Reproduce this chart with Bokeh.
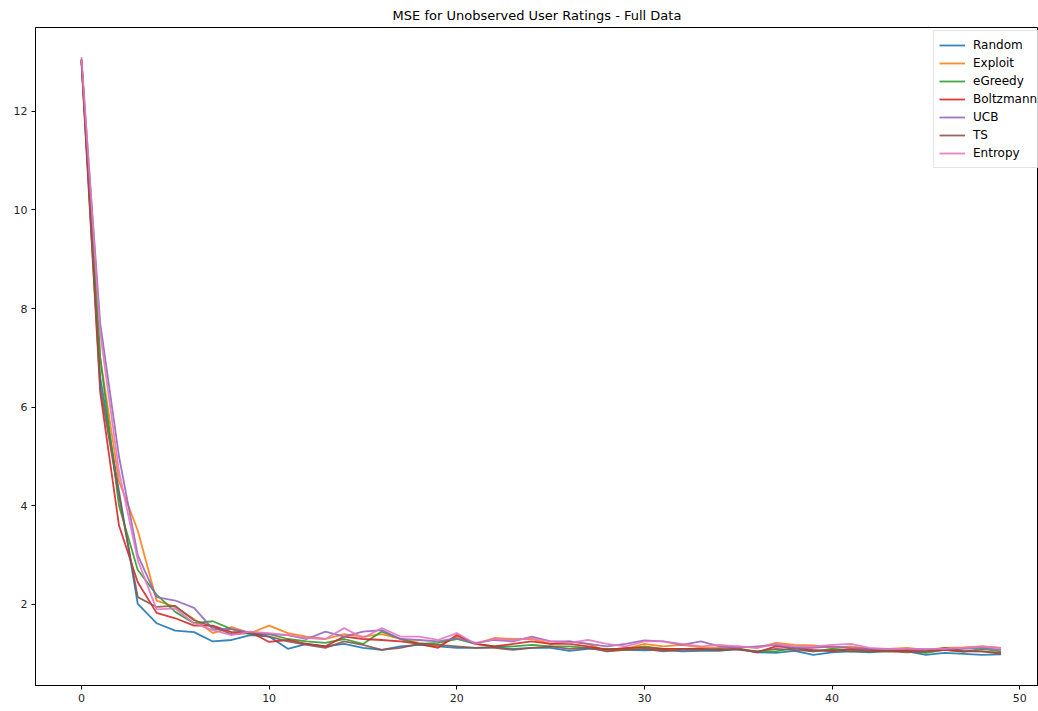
from bokeh.plotting import figure
from bokeh.models import Range1d, Legend, LegendItem, FixedTicker
from bokeh.embed import file_html
from bokeh.resources import INLINE

rounds = list(range(50))

random_ = [13.05, 6.6, 4.3, 2.01, 1.62, 1.47, 1.44, 1.25, 1.28, 1.38, 1.35, 1.1,
           1.2, 1.15, 1.2, 1.12, 1.08, 1.15, 1.18, 1.15, 1.12, 1.12, 1.14, 1.1, 1.12,
           1.12, 1.06, 1.1, 1.1, 1.08, 1.07, 1.08, 1.05, 1.06, 1.06, 1.1, 1.03, 1.02,
           1.06, 0.98, 1.03, 1.05, 1.03, 1.06, 1.05, 0.98, 1.02, 1.0, 0.98, 0.99]
exploit = [13.05, 7.0, 4.5, 3.5, 2.08, 1.95, 1.7, 1.42, 1.54, 1.42, 1.57, 1.42,
           1.35, 1.3, 1.4, 1.35, 1.4, 1.3, 1.22, 1.15, 1.35, 1.2, 1.32, 1.3, 1.3,
           1.2, 1.25, 1.2, 1.05, 1.1, 1.2, 1.15, 1.18, 1.13, 1.12, 1.15, 1.12, 1.22,
           1.18, 1.17, 1.12, 1.15, 1.1, 1.1, 1.12, 1.08, 1.12, 1.13, 1.15, 1.12]
egreedy = [13.05, 7.0, 4.0, 2.7, 2.2, 1.85, 1.62, 1.66, 1.5, 1.4, 1.4, 1.3,
           1.25, 1.22, 1.3, 1.2, 1.45, 1.3, 1.2, 1.22, 1.3, 1.2, 1.15, 1.15, 1.18,
           1.15, 1.15, 1.12, 1.1, 1.1, 1.15, 1.1, 1.1, 1.1, 1.08, 1.1, 1.05, 1.05,
           1.12, 1.05, 1.1, 1.08, 1.05, 1.05, 1.06, 1.02, 1.08, 1.04, 1.1, 1.05]
boltzmann = [13.0, 6.3, 3.6, 2.45, 1.83, 1.72, 1.57, 1.57, 1.44, 1.44, 1.24, 1.28,
             1.2, 1.15, 1.35, 1.3, 1.28, 1.25, 1.2, 1.12, 1.38, 1.2, 1.15, 1.2, 1.25,
             1.2, 1.2, 1.15, 1.08, 1.12, 1.12, 1.1, 1.1, 1.1, 1.08, 1.1, 1.03, 1.15,
             1.12, 1.08, 1.05, 1.1, 1.08, 1.05, 1.08, 1.05, 1.08, 1.05, 1.05, 1.02]
ucb = [13.0, 7.7, 5.0, 3.0, 2.15, 2.08, 1.93, 1.5, 1.5, 1.43, 1.4, 1.38,
       1.3, 1.45, 1.35, 1.45, 1.48, 1.3, 1.28, 1.25, 1.32, 1.22, 1.28, 1.25, 1.35,
       1.25, 1.25, 1.2, 1.15, 1.2, 1.27, 1.25, 1.18, 1.25, 1.15, 1.12, 1.15, 1.18,
       1.12, 1.12, 1.15, 1.12, 1.1, 1.1, 1.1, 1.08, 1.1, 1.1, 1.12, 1.08]
ts = [13.05, 6.4, 4.2, 2.15, 1.95, 1.97, 1.68, 1.55, 1.4, 1.42, 1.35, 1.25,
      1.18, 1.12, 1.25, 1.18, 1.08, 1.12, 1.2, 1.18, 1.15, 1.12, 1.12, 1.08, 1.12,
      1.15, 1.1, 1.12, 1.05, 1.08, 1.1, 1.05, 1.08, 1.08, 1.1, 1.08, 1.05, 1.1,
      1.08, 1.05, 1.08, 1.05, 1.05, 1.05, 1.03, 1.05, 1.12, 1.06, 1.05, 1.0]
entropy = [13.1, 7.5, 4.7, 2.9, 1.9, 1.92, 1.62, 1.48, 1.38, 1.45, 1.42, 1.38,
           1.32, 1.3, 1.52, 1.32, 1.52, 1.35, 1.35, 1.28, 1.42, 1.2, 1.3, 1.28, 1.32,
           1.25, 1.22, 1.28, 1.2, 1.15, 1.25, 1.25, 1.2, 1.15, 1.18, 1.15, 1.12, 1.2,
           1.15, 1.15, 1.18, 1.2, 1.12, 1.1, 1.1, 1.1, 1.1, 1.12, 1.15, 1.12]

series_names = ["Random", "Exploit", "eGreedy", "Boltzmann", "UCB", "TS", "Entropy"]
series_values = [random_, exploit, egreedy, boltzmann, ucb, ts, entropy]
colors = ["#1f77b4", "#ff7f0e", "#2ca02c", "#d62728", "#9467bd", "#8c564b", "#e377c2"]

x_ticks = [0, 10, 20, 30, 40, 50]
y_ticks = [2, 4, 6, 8, 10, 12]

FONT = "DejaVu Sans"

p = figure(width=1038, height=711, output_backend="svg", toolbar_location=None,
           x_range=Range1d(-2.45, 51.0), y_range=Range1d(0.357, 13.70),
           title="MSE for Unobserved User Ratings - Full Data",
           min_border_left=35, min_border_right=0, min_border_bottom=26, min_border_top=27)

p.title.align = "center"
p.title.text_font = FONT
p.title.text_font_size = "13px"
p.title.text_font_style = "normal"
p.title.text_color = "#000000"
p.title.offset = 0
p.title.standoff = 9

p.xgrid.visible = False
p.ygrid.visible = False
p.outline_line_color = "#000000"
p.outline_line_width = 1
p.outline_line_alpha = 1.0
p.background_fill_color = "white"
p.border_fill_color = "white"

p.xaxis.ticker = FixedTicker(ticks=x_ticks)
p.yaxis.ticker = FixedTicker(ticks=y_ticks)
for ax in (p.xaxis[0], p.yaxis[0]):
    ax.axis_line_color = "#000000"
    ax.major_tick_line_color = "#000000"
    ax.major_tick_out = 4
    ax.major_tick_in = 0
    ax.minor_tick_line_color = None
    ax.major_label_text_font = FONT
    ax.major_label_text_font_size = "11px"
    ax.major_label_text_color = "#262626"
    ax.major_label_standoff = 4

items = []
for name, vals, col in zip(series_names, series_values, colors):
    r = p.line(rounds, vals, line_color=col, line_width=1.8, line_alpha=0.9)
    items.append(LegendItem(label=name, renderers=[r]))

legend = Legend(items=items, location=(898, 517))
legend.label_text_font = FONT
legend.label_text_font_size = "12px"
legend.label_text_color = "#000000"
legend.glyph_width = 26
legend.glyph_height = 18
legend.label_height = 18
legend.spacing = 0
legend.padding = 5
legend.margin = 0
legend.label_standoff = 8
legend.border_line_color = "#cccccc"
legend.border_line_width = 1
legend.background_fill_alpha = 0.8
p.add_layout(legend, "center")

open("out.html", "w").write(file_html(p, INLINE))
